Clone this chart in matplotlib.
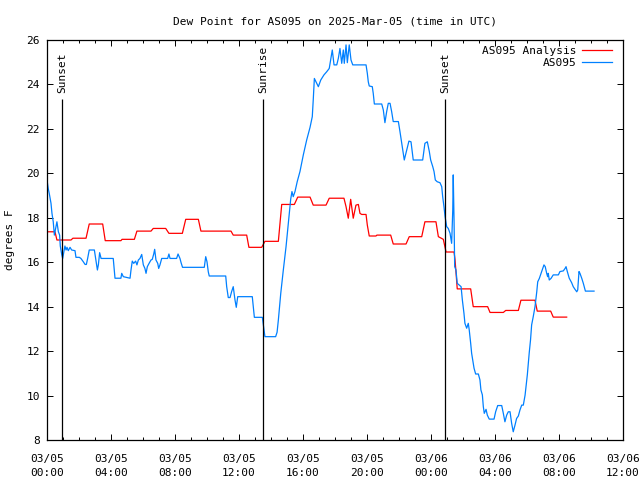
import numpy as np
import pandas as pd
import matplotlib
matplotlib.use('Agg')
import matplotlib.pyplot as plt
import matplotlib.dates as mdates

# ---------------------------------------------------------------------------
# Data (hours after 2025-03-05 00:00 UTC, dew point in degrees F)
# ---------------------------------------------------------------------------
analysis_hours = [0.0, 0.5, 0.62, 1.5, 1.62, 2.44, 2.64, 3.48, 3.64, 4.62, 4.69,
                  5.46, 5.62, 6.5, 6.64, 7.42, 7.62, 8.46, 8.67, 9.46, 9.62, 11.5,
                  11.64, 12.48, 12.62, 13.42, 13.62, 14.46, 14.67, 15.46, 15.67,
                  16.44, 16.64, 17.44, 17.64, 18.56, 18.69, 18.83, 18.98, 19.14,
                  19.31, 19.46, 19.56, 19.67, 19.94, 20.02, 20.14, 20.56, 20.62,
                  21.48, 21.64, 22.44, 22.64, 23.42, 23.62, 24.31, 24.46, 24.77,
                  24.94, 25.44, 25.5, 25.56, 25.64, 26.48, 26.64, 27.54, 27.69,
                  28.52, 28.67, 29.46, 29.62, 30.5, 30.64, 31.48, 31.64, 32.48]
analysis_vals = [17.37, 17.37, 17.0, 17.0, 17.08, 17.08, 17.72, 17.72, 16.97, 16.97, 17.03,
                 17.03, 17.4, 17.4, 17.52, 17.52, 17.3, 17.3, 17.93, 17.93, 17.4, 17.4,
                 17.22, 17.22, 16.67, 16.67, 16.94, 16.94, 18.6, 18.6, 18.93,
                 18.93, 18.57, 18.57, 18.88, 18.88, 18.5, 17.98, 18.83, 17.98,
                 18.57, 18.6, 18.2, 18.15, 18.15, 17.67, 17.18, 17.18, 17.22,
                 17.22, 16.82, 16.82, 17.15, 17.15, 17.82, 17.82, 17.15, 17.03,
                 16.46, 16.46, 16.13, 15.57, 14.8, 14.8, 14.0, 14.0, 13.74,
                 13.74, 13.83, 13.83, 14.29, 14.29, 13.8, 13.8, 13.53, 13.53]

obs_hours = [0.0, 0.08, 0.14, 0.25, 0.31, 0.39, 0.46, 0.54, 0.62, 0.71, 0.79, 0.83,
             0.92, 0.98, 1.04, 1.12, 1.19, 1.25, 1.33, 1.44, 1.54, 1.75, 1.81, 2.02,
             2.12, 2.27, 2.38, 2.46, 2.54, 2.64, 2.96, 3.04, 3.15, 3.21, 3.29, 3.38,
             3.46, 4.14, 4.25, 4.62, 4.67, 4.77, 5.19, 5.25, 5.33, 5.42, 5.54, 5.62,
             5.71, 5.81, 5.92, 6.02, 6.12, 6.19, 6.27, 6.38, 6.5, 6.58, 6.67, 6.73,
             6.81, 6.92, 6.98, 7.06, 7.17, 7.54, 7.62, 7.69, 8.1, 8.19, 8.31, 8.38,
             8.47, 9.83, 9.92, 10.0, 10.08, 10.14, 11.17, 11.23, 11.33, 11.44, 11.54,
             11.64, 11.75, 11.83, 11.92, 12.83, 12.96, 13.46, 13.54, 13.62, 14.29,
             14.38, 14.46, 14.61, 14.77, 14.94, 15.08, 15.23, 15.31, 15.39, 15.5,
             15.64, 15.81, 16.02, 16.23, 16.44, 16.58, 16.64, 16.71, 16.81, 16.96,
             17.11, 17.31, 17.48, 17.64, 17.73, 17.83, 17.94, 18.11, 18.21, 18.31,
             18.42, 18.52, 18.58, 18.69, 18.77, 18.89, 19.0, 19.11, 19.94, 20.02,
             20.08, 20.14, 20.33, 20.39, 20.46, 20.92, 21.02, 21.12, 21.23, 21.33,
             21.44, 21.54, 21.64, 21.96, 22.06, 22.17, 22.27, 22.33, 22.48, 22.62,
             22.75, 22.89, 23.48, 23.62, 23.77, 23.89, 23.98, 24.11, 24.19, 24.27,
             24.39, 24.56, 24.67, 24.73, 24.81, 24.88, 24.98, 25.08, 25.19, 25.29,
             25.36, 25.39, 25.44, 25.48, 25.56, 25.64, 25.75, 25.88, 25.96, 26.06,
             26.12, 26.23, 26.33, 26.39, 26.48, 26.54, 26.61, 26.69, 26.79, 26.96,
             27.06, 27.12, 27.21, 27.27, 27.33, 27.44, 27.52, 27.64, 27.94, 28.04,
             28.17, 28.42, 28.52, 28.62, 28.73, 28.83, 28.94, 29.04, 29.14, 29.25,
             29.35, 29.46, 29.56, 29.67, 29.77, 29.88, 29.94, 30.02, 30.08, 30.14,
             30.22, 30.29, 30.39, 30.5, 30.61, 30.67, 30.77, 30.88, 30.98, 31.06,
             31.14, 31.23, 31.29, 31.33, 31.39, 31.5, 31.64, 31.96, 32.06, 32.27,
             32.38, 32.44, 32.52, 32.64, 32.79, 32.89, 33.0, 33.11, 33.17, 33.25,
             33.31, 33.42, 33.52, 33.65, 34.19]
obs_vals = [19.7, 19.3, 19.1, 18.65, 18.2, 17.82, 17.22, 17.52, 17.82, 17.37, 17.22, 16.73,
            16.35, 16.17, 16.4, 16.73, 16.55, 16.67, 16.52, 16.67, 16.55, 16.52, 16.22, 16.22,
            16.17, 16.02, 15.9, 15.9, 16.17, 16.55, 16.55, 16.17, 15.65, 15.88, 16.43, 16.17,
            16.17, 16.17, 15.28, 15.28, 15.5, 15.35, 15.28, 15.65, 16.05, 15.95, 16.05, 15.88,
            16.1, 16.17, 16.35, 15.88, 15.72, 15.5, 15.8, 15.95, 16.1, 16.13, 16.37, 16.58,
            16.1, 15.95, 15.72, 15.88, 16.17, 16.17, 16.37, 16.17, 16.17, 16.37, 16.17, 15.98,
            15.77, 15.77, 16.25, 16.02, 15.57, 15.38, 15.38, 14.9, 14.41, 14.41, 14.68,
            14.9, 14.3, 13.97, 14.45, 14.45, 13.52, 13.52, 13.1, 12.65, 12.65,
            12.85, 13.4, 14.6, 15.65, 16.7, 17.75, 18.83, 19.18, 18.95, 19.18,
            19.63, 20.08, 20.83, 21.5, 22.07, 22.55, 23.3, 24.27, 24.12, 23.9,
            24.2, 24.43, 24.57, 24.72, 25.1, 25.55, 24.88, 24.88, 25.18, 25.62,
            24.95, 25.55, 24.95, 25.78, 24.98, 25.78, 25.1, 24.88, 24.88, 24.5,
            24.12, 23.93, 23.9, 23.6, 23.12, 23.12, 22.85, 22.28, 22.78, 23.15,
            23.15, 22.78, 22.33, 22.33, 21.88, 21.35, 20.9, 20.6, 21.05, 21.45,
            21.42, 20.6, 20.6, 21.35, 21.42, 21.0, 20.6, 20.3, 20.08, 19.7,
            19.62, 19.58, 19.4, 18.95, 18.5, 18.05, 17.6, 17.52, 17.3, 16.85,
            18.35, 19.93, 17.9, 15.8, 15.65, 15.05, 14.98, 14.9, 14.3, 13.7,
            13.25, 13.03, 13.25, 12.95, 12.35, 11.9, 11.6, 11.23, 10.97, 10.97,
            10.7, 10.25, 10.03, 9.5, 9.2, 9.38, 9.12, 8.94, 8.94, 9.27,
            9.55, 9.55, 9.2, 8.82, 9.12, 9.27, 9.27, 8.75, 8.37, 8.67,
            8.97, 9.08, 9.35, 9.57, 9.57, 10.02, 10.43, 10.93, 11.45, 11.93,
            12.5, 13.18, 13.55, 14.0, 14.67, 15.12, 15.27, 15.5, 15.72, 15.88,
            15.8, 15.5, 15.35, 15.5, 15.2, 15.27, 15.43, 15.43, 15.58, 15.61,
            15.72, 15.8, 15.58, 15.28, 15.08, 14.9, 14.78, 14.67, 14.75, 15.58,
            15.5, 15.28, 15.05, 14.7, 14.7]

sun_hours = [0.94, 13.5, 24.875]
sun_labels = ['Sunset', 'Sunrise', 'Sunset']

base = pd.Timestamp('2025-03-05 00:00')
def to_time(hours):
    return base + pd.to_timedelta(np.asarray(hours), unit='h')

plt.rcParams['font.family'] = 'DejaVu Sans Mono'
plt.rcParams['font.size'] = 8

fig = plt.figure(figsize=(6.4, 4.8), dpi=100)
ax = fig.add_axes([47/640, 40/480, 576/640, 400/480])

ax.plot(to_time(analysis_hours), analysis_vals, color='#ff0000', lw=0.9, label='AS095 Analysis')
ax.plot(to_time(obs_hours), obs_vals, color='#0080ff', lw=0.9, label='AS095')

for h, lab in zip(sun_hours, sun_labels):
    t = to_time([h])[0]
    ax.vlines(t, 8, 23.35, color='black', lw=0.9)
    ax.text(t, 23.6, lab, rotation=90, ha='center', va='bottom', fontsize=8)

ax.set_xlim(base, base + pd.Timedelta(hours=36))
ax.set_ylim(8, 26)
ax.set_yticks(np.arange(8, 27, 2))
ax.xaxis.set_major_locator(mdates.HourLocator(byhour=range(0, 24, 4)))
ax.xaxis.set_minor_locator(mdates.HourLocator())
ax.xaxis.set_major_formatter(mdates.DateFormatter('%m/%d\n%H:%M'))
ax.tick_params(which='both', direction='in', top=True, right=True, labelsize=8)
ax.tick_params(which='major', length=4.5, width=0.7)
ax.tick_params(which='minor', length=2.2, width=0.7)
ax.tick_params(axis='x', which='major', pad=10)
ax.tick_params(axis='y', which='major', pad=5)
for lbl in ax.get_xticklabels():
    lbl.set_linespacing(1.5)
for sp in ax.spines.values():
    sp.set_linewidth(0.9)

ax.set_ylabel('degrees F', fontsize=8, labelpad=8)
ax.set_title('Dew Point for AS095 on 2025-Mar-05 (time in UTC)', fontsize=8, pad=11)

ax.legend(loc='upper right', frameon=False, markerfirst=False, handlelength=2.7,
          handletextpad=0.5, labelspacing=0.2, borderaxespad=0.1,
          bbox_to_anchor=(0.99, 1.0), fontsize=8)

fig.savefig('out.png', dpi=100)
